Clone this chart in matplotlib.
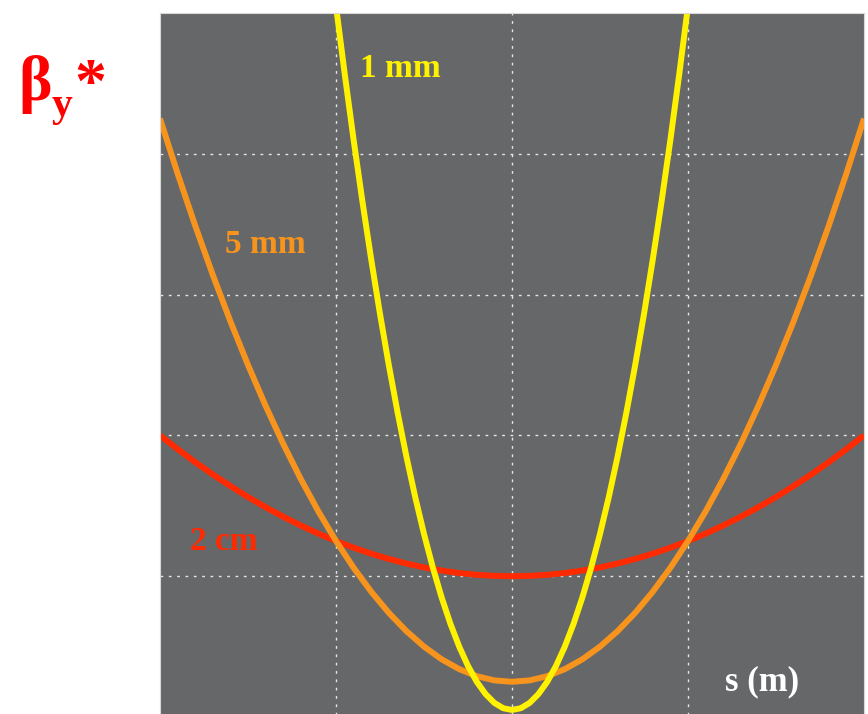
import matplotlib
matplotlib.use("Agg")
import matplotlib.pyplot as plt
import numpy as np

# beta function around the IP (s in m, beta in m)
# curves are symmetric about s = 0, so only the s >= 0 half is listed
s_half_1mm = [0.0, 0.0005, 0.001, 0.0015, 0.002, 0.0025, 0.003, 0.0035, 0.004, 0.0045, 0.005,
              0.0055, 0.006, 0.0065, 0.007, 0.0075, 0.008, 0.0085, 0.009, 0.0095, 0.010]
beta_half_1mm = [0.001, 0.00125, 0.002, 0.00325, 0.005, 0.00725, 0.010, 0.01325, 0.017, 0.02125, 0.026,
                 0.03125, 0.037, 0.04325, 0.050, 0.05725, 0.065, 0.07325, 0.082, 0.09125, 0.101]

s_half = [0.0, 0.001, 0.002, 0.003, 0.004, 0.005, 0.006, 0.007, 0.008, 0.009, 0.010,
          0.011, 0.012, 0.013, 0.014, 0.015, 0.016, 0.017, 0.018, 0.019, 0.020]
beta_half_5mm = [0.005, 0.0052, 0.0058, 0.0068, 0.0082, 0.010, 0.0122, 0.0148, 0.0178, 0.0212, 0.025,
                 0.0292, 0.0338, 0.0388, 0.0442, 0.050, 0.0562, 0.0628, 0.0698, 0.0772, 0.085]
beta_half_2cm = [0.020, 0.02005, 0.0202, 0.02045, 0.0208, 0.02125, 0.0218, 0.02245, 0.0232, 0.02405, 0.025,
                 0.02605, 0.0272, 0.02845, 0.0298, 0.03125, 0.0328, 0.03445, 0.0362, 0.03805, 0.040]

labels = ['1 mm', '5 mm', '2 cm']
xticks = [-0.01, 0.0, 0.01]
yticks = [0.02, 0.04, 0.06, 0.08]


def mirror(s, b):
    s = np.asarray(s)
    b = np.asarray(b)
    return np.concatenate([-s[:0:-1], s]), np.concatenate([b[:0:-1], b])


s1, b1 = mirror(s_half_1mm, beta_half_1mm)
s5, b5 = mirror(s_half, beta_half_5mm)
s20, b20 = mirror(s_half, beta_half_2cm)

serif = ['Liberation Serif', 'DejaVu Serif']
c_red = '#ff2a00'
c_orange = '#f7941d'
c_yellow = '#fff200'

fig = plt.figure(figsize=(8.68, 7.14), dpi=100)
fig.patch.set_facecolor('white')
ax = fig.add_axes([160/868, -3/714, 704/868, 704/714])
ax.set_facecolor('#666769')

lw = 4.3
ax.plot(s20, b20, color=c_red, lw=lw, solid_capstyle='butt', solid_joinstyle='round')
ax.plot(s5, b5, color=c_orange, lw=lw, solid_capstyle='butt', solid_joinstyle='round')
ax.plot(s1, b1, color=c_yellow, lw=lw, solid_capstyle='butt', solid_joinstyle='round')

ax.set_xlim(-0.02, 0.02)
ax.set_ylim(0, 0.1)
ax.set_xticks(xticks)
ax.set_xticklabels([])
ax.set_yticks(yticks)
ax.tick_params(colors='white', labelcolor='white', length=0)
ax.grid(True, color='#e6e6e6', linestyle=(0, (2, 4)), linewidth=1.0)
for sp in ax.spines.values():
    sp.set_color('#d8d8d8')
    sp.set_linewidth(0.8)

ax.text(-0.00864, 0.0909, labels[0], color=c_yellow, fontsize=24, fontweight='bold', family=serif)
ax.text(-0.0163, 0.0659, labels[1], color=c_orange, fontsize=24, fontweight='bold', family=serif)
ax.text(-0.0183, 0.0237, labels[2], color=c_red, fontsize=24, fontweight='bold', family=serif)
ax.text(0.0121, 0.0038, 's (m)', color='white', fontsize=25, fontweight='bold', family=serif)

fig.text(18/868, 1 - 100/714, 'β', color='red', fontsize=46, fontweight='bold', family=serif)
fig.text(52/868, 1 - 116/714, 'y', color='red', fontsize=30, fontweight='bold', family=serif)
fig.text(74/868, 1 - 58/714, '*', color='red', fontsize=46, fontweight='bold', family=serif, va='top')

fig.savefig('out.png', dpi=100)
